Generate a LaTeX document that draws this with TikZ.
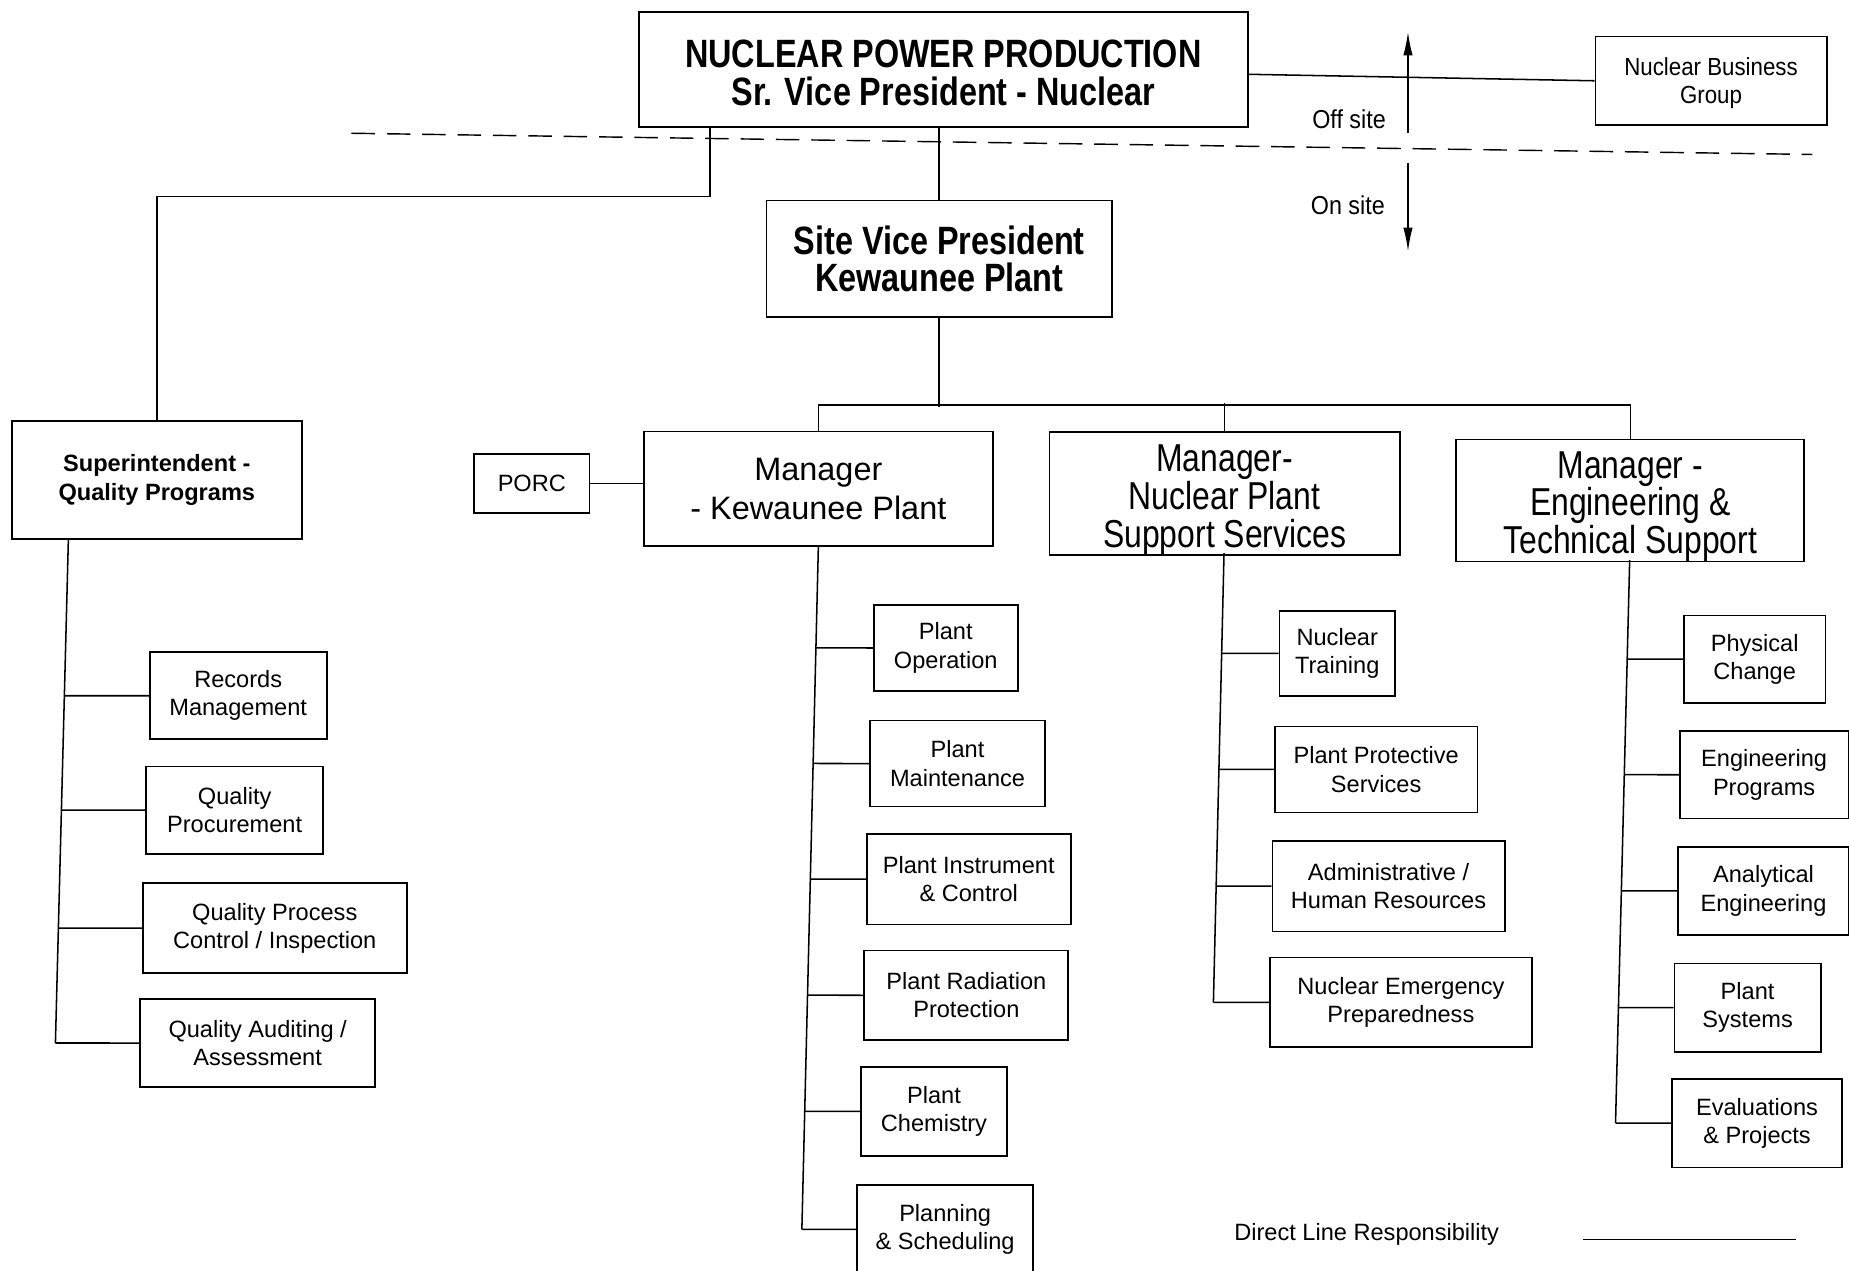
\documentclass[tikz,border=0pt]{standalone}
\usepackage{fontspec}
\setmainfont{Liberation Sans}
\newfontfamily\nar[FakeStretch=0.82]{Liberation Sans}
\newfontfamily\semi[FakeStretch=0.9]{Liberation Sans}
\usetikzlibrary{arrows.meta}
\newcommand{\tallfirst}[1]{\rule{0pt}{#1pt}}
\begin{document}
\begin{tikzpicture}[x=1pt,y=-1pt,
  box/.style={draw, line width=1.5pt, inner sep=0pt, align=center, font=\fontsize{20}{24}\selectfont},
  wh/.style 2 args={minimum width=#1pt, minimum height=#2pt},
  ttl/.style={font=\nar\bfseries\fontsize{33.5}{32}\selectfont},
  mgrn/.style={font=\nar\fontsize{33}{32}\selectfont},
  mgrw/.style={font=\fontsize{27.5}{33}\selectfont},
  sup/.style={font=\bfseries\fontsize{20}{24}\selectfont},
  nbg/.style={font=\semi\fontsize{21}{24}\selectfont},
  lbl/.style={inner sep=0pt, font=\semi\fontsize{22}{24}\selectfont},
  ln/.style={line width=1.3pt},
  arr/.style={line width=1.3pt, -{Latex[length=20pt,width=8pt]}}
]
\fill[white] (0,0) rectangle (1568,1077);
\useasboundingbox (0,0) rectangle (1568,1077);

% top level
\node[box, wh={516}{98}, ttl] (npp) at (800,59) {\tallfirst{28.5}NUCLEAR POWER PRODUCTION\\Sr. Vice President - Nuclear};
\node[box, wh={196}{75}, nbg] (nbg) at (1451,68.5) {\tallfirst{19}Nuclear Business\\Group};
\node[box, wh={293}{99}, ttl] (svp) at (796.5,219.5) {Site Vice President\\Kewaunee Plant};

% managers
\node[box, wh={246}{100}, sup] (sqp) at (133,407) {Superintendent -\\Quality Programs};
\node[box, wh={98}{50}] (porc) at (451,410) {PORC};
\node[box, wh={296}{97}, mgrw] (mkp) at (694,414.5) {Manager\\- Kewaunee Plant};
\node[box, wh={297}{101}, mgrn] (mss) at (1038.5,418.5) {\tallfirst{33.6}Manager-\\Nuclear Plant\\Support Services};
\node[box, wh={295}{101}, mgrn] (met) at (1382.5,424.5) {\tallfirst{32.6}Manager -\\Engineering \&\\Technical Support};

% quality programs children
\node[box, wh={150}{74}] (rm) at (202,590) {Records\\Management};
\node[box, wh={150}{74}] (qp) at (199,687) {Quality\\Procurement};
\node[box, wh={224}{76}] (qpc) at (233,787) {Quality Process\\Control / Inspection};
\node[box, wh={199}{75}] (qa) at (218.5,884.5) {Quality Auditing /\\Assessment};

% Kewaunee plant children
\node[box, wh={122}{73}] (po) at (802,549.5) {Plant\\Operation};
\node[box, wh={148}{73}] (pm) at (812,647.5) {Plant\\Maintenance};
\node[box, wh={173}{77}] (pic) at (821.5,745.5) {Plant Instrument\\\& Control};
\node[box, wh={173}{76}] (prp) at (819.5,844) {Plant Radiation\\Protection};
\node[box, wh={124}{75}] (pc) at (792,942.5) {Plant\\Chemistry};
\node[box, wh={149}{75}] (ps) at (801.5,1042.5) {Planning\\\& Scheduling};

% support services children
\node[box, wh={98}{72}] (nt) at (1134,554) {Nuclear\\Training};
\node[box, wh={172}{73}] (pps) at (1167,652.5) {Plant Protective\\Services};
\node[box, wh={197}{77}] (ahr) at (1177.5,751.5) {Administrative /\\Human Resources};
\node[box, wh={222}{76}] (nep) at (1188,850) {Nuclear Emergency\\Preparedness};

% engineering children
\node[box, wh={120}{74}] (phc) at (1488,559) {Physical\\Change};
\node[box, wh={143}{74}] (ep) at (1496,657) {Engineering\\Programs};
\node[box, wh={145}{75}] (ae) at (1495.5,755.5) {Analytical\\Engineering};
\node[box, wh={124}{75}] (psy) at (1482,854.5) {Plant\\Systems};
\node[box, wh={144}{75}] (evp) at (1490,952.5) {Evaluations\\\& Projects};

% top connectors
\draw[ln] ([yshift=-4pt]npp.east) -- (nbg.west);
\draw[ln] ([xshift=-198pt]npp.south) -- ++(0,58) -| (sqp.north);
\draw[ln] (npp.south -| svp.north) -- (svp.north);
\draw[ln] (svp.south) -- ++(0,75);
\draw[ln] (mkp.north) -- ++(0,-22) -| (met.north);
\draw[ln] (mss.north) -- ++(0,-24);
\draw[ln] (porc.east) -- (porc.east -| mkp.west);

% off/on site
\draw[dash pattern=on 20pt off 10pt, line width=1.2pt] (298,113) coordinate (dl) -- (1537,131) coordinate (dr);
\coordinate (upb) at (1194,113);
\coordinate (upt) at (1194,27);
\coordinate (dnt) at (1194,138);
\coordinate (dnb) at (1194,213);
\draw[arr] (upb) -- (upt);
\draw[arr] (dnt) -- (dnb);
\node[lbl] (off) at (1144,101) {Off site};
\node[lbl] (on) at (1143,174) {On site};

% trunks
\coordinate (lT) at (58,457);
\coordinate (lB) at (47,884.5);
\draw[ln] (lT) -- (lB);
\foreach \c in {rm,qp,qpc,qa}
  \draw[ln] (\c.west) -- (intersection of lT--lB and \c.west--\c.east);

\coordinate (kT) at (694,463);
\coordinate (kB) at (680,1042.5);
\draw[ln] (kT) -- (kB);
\foreach \c in {po,pm,pic,prp,pc,ps}
  \draw[ln] (\c.west) -- (intersection of kT--kB and \c.west--\c.east);

\coordinate (sT) at (1038,469);
\coordinate (sB) at (1029,850);
\draw[ln] (sT) -- (sB);
\foreach \c in {nt,pps,ahr,nep}
  \draw[ln] (\c.west) -- (intersection of sT--sB and \c.west--\c.east);

\coordinate (eT) at (1382,475);
\coordinate (eB) at (1370,952.5);
\draw[ln] (eT) -- (eB);
\foreach \c in {phc,ep,ae,psy,evp}
  \draw[ln] (\c.west) -- (intersection of eT--eB and \c.west--\c.east);

% legend
\node[inner sep=0pt, font=\fontsize{20}{24}\selectfont] (dlr) at (1159,1047) {Direct Line Responsibility};
\coordinate (lg1) at (1342,1051);
\coordinate (lg2) at (1523,1051);
\draw[ln] (lg1) -- (lg2);
\end{tikzpicture}
\end{document}
